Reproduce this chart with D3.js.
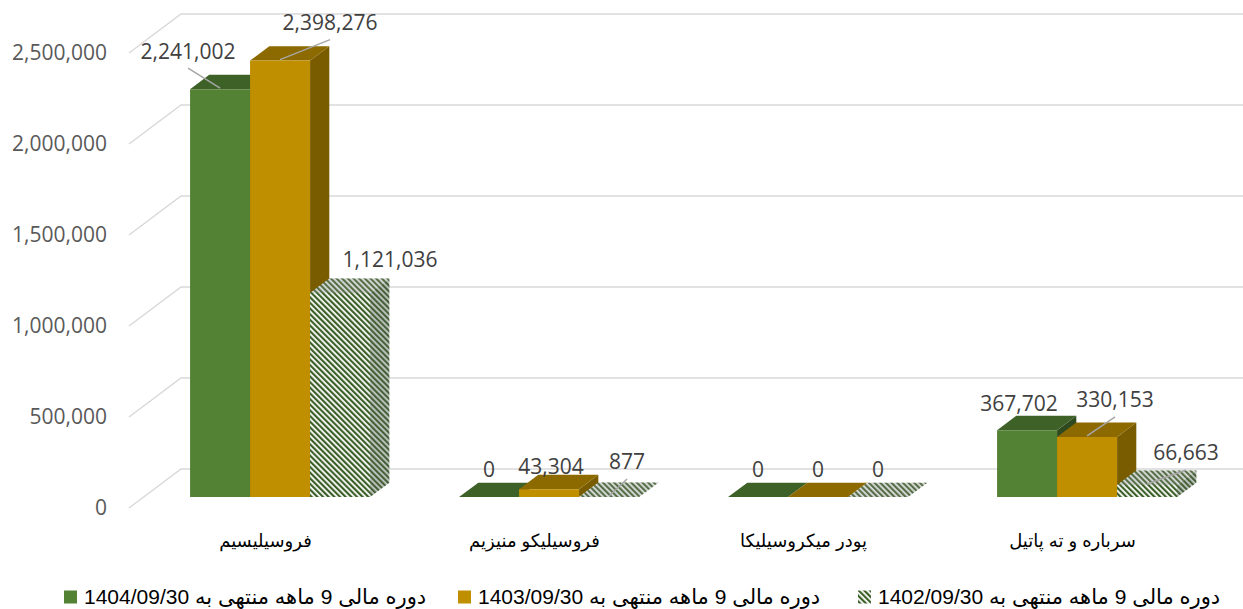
<!DOCTYPE html>
<html>
<head>
<meta charset="utf-8">
<script src="https://cdn.jsdelivr.net/npm/d3@7"></script>
<style>
  html, body { margin: 0; padding: 0; background: #fff; }
  svg { display: block; }
</style>
</head>
<body>
<svg id="chart"></svg>
<script>
const categories = ['فروسیلیسیم', 'فروسیلیکو منیزیم', 'پودر میکروسیلیکا', 'سرباره و ته پاتیل']
const seriesNames = [
  'دوره مالی 9 ماهه منتهی به 1404/09/30',
  'دوره مالی 9 ماهه منتهی به 1403/09/30',
  'دوره مالی 9 ماهه منتهی به 1402/09/30'
]
const values1404 = [2241002, 0, 0, 367702]
const values1403 = [2398276, 43304, 0, 330153]
const values1402 = [1121036, 877, 0, 66663]
const yTicks = [0, 500000, 1000000, 1500000, 2000000, 2500000]

const width = 1243
const height = 609
const depth = { dx: 52, dy: -39 }   // full floor depth
const barDepth = [0.28, 0.65]        // bars sit inside the floor depth

const svg = d3.select('#chart').attr('width', width).attr('height', height)

const defs = svg.append('defs')
const pat = defs.append('pattern')
  .attr('id', 'hatch')
  .attr('patternUnits', 'userSpaceOnUse')
  .attr('width', 4).attr('height', 4)
  .attr('patternTransform', 'rotate(-45)')
pat.append('rect').attr('width', 4).attr('height', 4).attr('fill', '#fff')
pat.append('rect').attr('width', 2.2).attr('height', 4).attr('fill', '#3b5f27')

const y = d3.scaleLinear().domain([0, 2500000]).range([508, 53])
const x0 = d3.scaleBand().domain(categories).range([131, 1207])
const x1 = d3.scaleBand().domain([0, 1, 2]).range([0, 180])
const groupPad = (x0.bandwidth() - 180) / 2

const P = (x, v, t) => [x + depth.dx * t, y(v) + depth.dy * t]
const poly = pts => 'M' + pts.map(p => p.join(',')).join('L') + 'Z'

// back wall + side wall gridlines
const grid = svg.append('g')
  .attr('fill', 'none')
  .attr('stroke', '#d9d9d9')
  .attr('stroke-width', 1.5)
yTicks.forEach(v => {
  const a = P(129, v, 0)
  const b = P(129, v, 1)
  grid.append('path').attr('d', `M${a}L${b}L${width + 60},${b[1]}`)
})

// y axis labels
svg.append('g')
  .attr('font-family', '"Open Sans", "Liberation Sans", sans-serif')
  .attr('font-size', 21)
  .attr('fill', '#595959')
  .attr('text-anchor', 'end')
  .selectAll('text')
  .data(yTicks)
  .join('text')
  .attr('x', 107)
  .attr('y', d => y(d))
  .attr('dy', '0.35em')
  .text(d => d3.format(',')(d))

const series = [
  { values: values1404, front: '#548235', top: '#3e6128', side: '#2f4a1e' },
  { values: values1403, front: '#bf8f00', top: '#8d6a00', side: '#7a5c00' },
  { values: values1402, front: 'url(#hatch)', top: 'url(#hatch)', side: 'url(#hatch)', hatch: true }
]

const bars = svg.append('g')
categories.forEach((c, ci) => {
  series.forEach((s, si) => {
    const v = s.values[ci]
    const xl = x0(c) + groupPad + x1(si)
    const xr = xl + x1.bandwidth()
    const [tf, tb] = barDepth
    const side = [P(xr, 0, tf), P(xr, 0, tb), P(xr, v, tb), P(xr, v, tf)]
    const top = [P(xl, v, tf), P(xr, v, tf), P(xr, v, tb), P(xl, v, tb)]
    const front = [P(xl, 0, tf), P(xr, 0, tf), P(xr, v, tf), P(xl, v, tf)]
    const g = bars.append('g')
    g.append('path').attr('d', poly(side)).attr('fill', s.side)
    if (s.hatch) g.append('path').attr('d', poly(side)).attr('fill', 'rgba(90,100,90,0.35)')
    g.append('path').attr('d', poly(top)).attr('fill', s.top)
    if (s.hatch) g.append('path').attr('d', poly(top)).attr('fill', 'rgba(150,150,150,0.3)')
    if (v > 0) g.append('path').attr('d', poly(front)).attr('fill', s.front)
  })
})

// data labels: nudges relative to the top-front centre of each bar
const labelNudge = [
  [[-32, -38], [50, -38], [50, -33]],
  [[0, -27], [2, -23], [18, -35]],
  [[0, -27], [0, -27], [0, -27]],
  [[-8, -27], [28, -37], [39, -32]]
]
const leaderLines = [
  [true, true, false],
  [false, false, true],
  [false, false, false],
  [false, true, true]
]
const lbl = svg.append('g')
  .attr('font-family', '"Open Sans", "Liberation Sans", sans-serif')
  .attr('font-size', 21)
  .attr('fill', '#404040')
  .attr('text-anchor', 'middle')
categories.forEach((c, ci) => {
  series.forEach((s, si) => {
    const v = s.values[ci]
    const xl = x0(c) + groupPad + x1(si)
    const anchor = P(xl + x1.bandwidth() / 2, v, barDepth[0])
    const [nx, ny] = labelNudge[ci][si]
    const lx = anchor[0] + nx
    const ly = anchor[1] + ny
    if (leaderLines[ci][si]) {
      lbl.append('line')
        .attr('x1', lx).attr('y1', ly + 17)
        .attr('x2', anchor[0]).attr('y2', anchor[1] - 1)
        .attr('stroke', '#a6a6a6').attr('stroke-width', 1.5)
    }
    lbl.append('text')
      .attr('x', lx).attr('y', ly)
      .attr('dy', '0.35em')
      .text(d3.format(',')(v))
  })
})

// category labels
svg.append('g')
  .attr('font-family', '"Liberation Sans", "DejaVu Sans", sans-serif')
  .attr('font-size', 18)
  .attr('fill', '#000')
  .attr('text-anchor', 'middle')
  .selectAll('text')
  .data(categories)
  .join('text')
  .attr('x', d => x0(d) + x0.bandwidth() / 2)
  .attr('y', 541)
  .attr('dy', '0.35em')
  .attr('direction', 'rtl')
  .text(d => d)

// legend
const legendX = [64, 458, 858]
const legend = svg.append('g')
  .attr('font-family', '"Liberation Sans", "DejaVu Sans", sans-serif')
  .attr('font-size', 21)
  .attr('fill', '#000')
seriesNames.forEach((name, i) => {
  const lg = legend.append('g').attr('transform', `translate(${legendX[i]},597)`)
  lg.append('rect').attr('x', 0).attr('y', -6.5).attr('width', 13).attr('height', 13)
    .attr('fill', series[i].front)
  lg.append('text')
    .attr('x', 20).attr('dy', '0.35em')
    .attr('direction', 'rtl')
    .attr('text-anchor', 'end')
    .text(name)
})
</script>
</body>
</html>
